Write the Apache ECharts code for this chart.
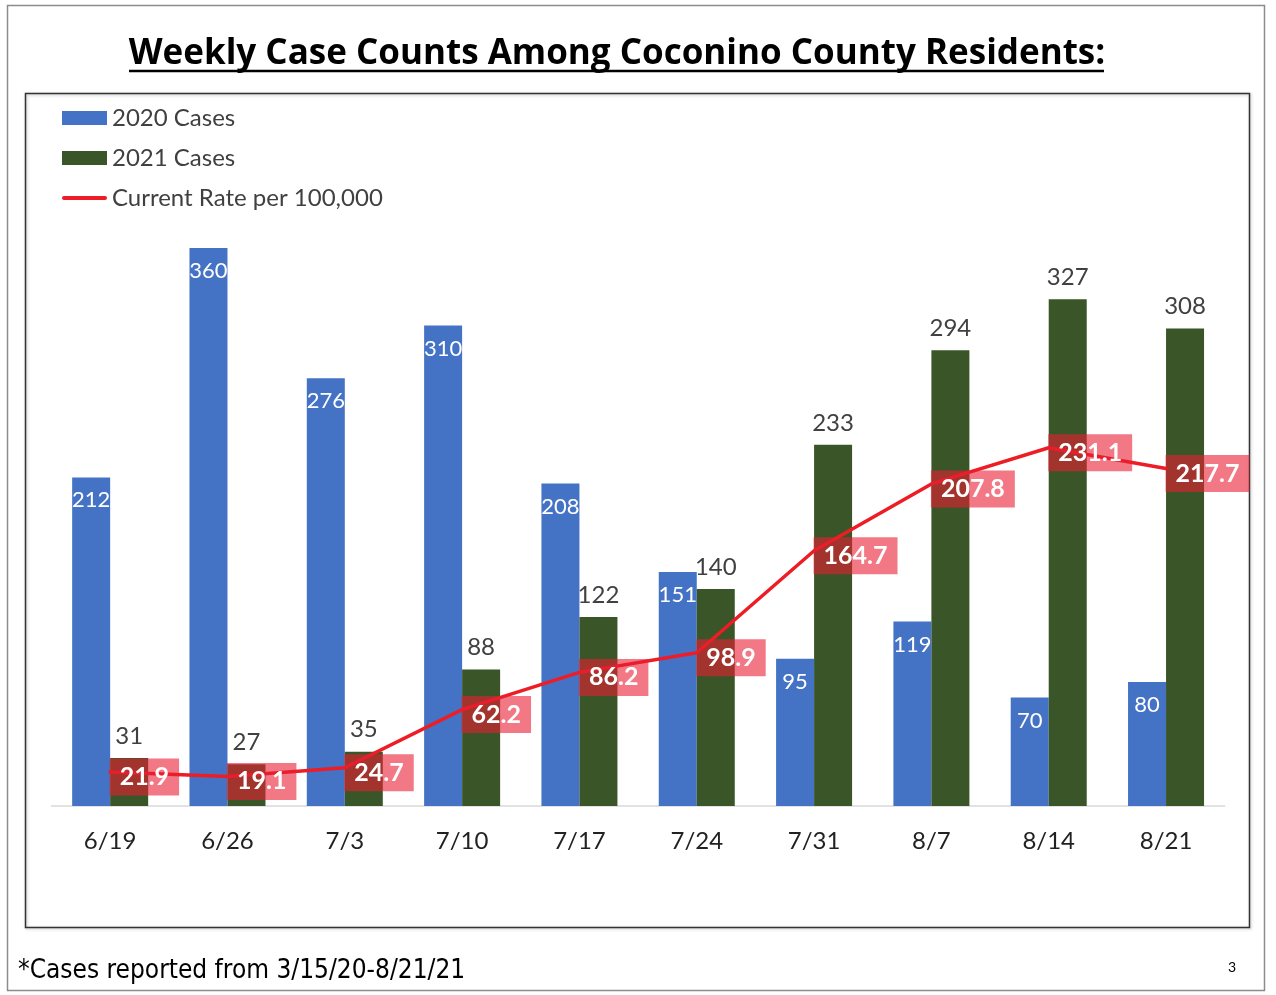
<!DOCTYPE html>
<html>
<head>
<meta charset="utf-8">
<script src="https://cdn.jsdelivr.net/npm/echarts@6/dist/echarts.min.js"></script>
<style>
html,body{margin:0;padding:0;background:#fff;}
#c{width:1276px;height:995px;}
</style>
</head>
<body>
<div id="c"></div>
<script>
const categories = ['6/19','6/26','7/3','7/10','7/17','7/24','7/31','8/7','8/14','8/21'];
const cases2020 = [212, 360, 276, 310, 208, 151, 95, 119, 70, 80];
const cases2021 = [31, 27, 35, 88, 122, 140, 233, 294, 327, 308];
const rate = [21.9, 19.1, 24.7, 62.2, 86.2, 98.9, 164.7, 207.8, 231.1, 217.7];

const chart = echarts.init(document.getElementById('c'));
const FONT = 'Lato, "Noto Sans", sans-serif';
chart.setOption({
  animation: false,
  backgroundColor: '#fff',
  textStyle: { fontFamily: FONT },
  grid: { left: 51.5, right: 51.3, top: 186, bottom: 189, outerBoundsMode: 'none' },
  legend: {
    orient: 'vertical',
    left: 57, top: 101,
    itemWidth: 45, itemHeight: 14, itemGap: 16,
    textStyle: { fontSize: 24, color: '#404040', fontFamily: FONT },
    data: [
      { name: '2020 Cases', icon: 'rect' },
      { name: '2021 Cases', icon: 'rect' },
      { name: 'Current Rate per 100,000', icon: 'path://M2,0 L43,0 A2,2 0 0 1 43,4 L2,4 A2,2 0 0 1 2,0 Z' }
    ]
  },
  xAxis: {
    type: 'category',
    data: categories,
    axisTick: { show: false },
    axisLine: { lineStyle: { color: '#D9D9D9', width: 1.5 } },
    axisLabel: { fontSize: 24, color: '#222', margin: 23, fontFamily: FONT }
  },
  yAxis: {
    type: 'value', min: 0, max: 400,
    show: false, splitLine: { show: false }
  },
  series: [
    {
      name: '2020 Cases', type: 'bar', data: cases2020,
      barWidth: 38, barGap: '0%',
      itemStyle: { color: '#4472C4' },
      label: { show: true, position: 'insideTop', distance: 12, color: '#fff', fontSize: 22, fontFamily: FONT }
    },
    {
      name: '2021 Cases', type: 'bar', data: cases2021,
      barWidth: 38,
      itemStyle: { color: '#3A5527' },
      label: { show: true, position: 'top', distance: 10, color: '#404040', fontSize: 24, fontFamily: FONT }
    },
    {
      name: 'Current Rate per 100,000', type: 'line', data: rate,
      symbol: 'circle', symbolSize: 1, showSymbol: true, z: 5,
      lineStyle: { color: '#EE1C25', width: 3.5, cap: 'round', join: 'round' },
      itemStyle: { color: '#EE1C25' },
      label: {
        show: true, position: 'right', distance: 0, offset: [-1, 5],
        color: '#fff', fontSize: 25, fontWeight: 'bold', fontFamily: FONT,
        backgroundColor: 'rgba(232,30,50,0.6)', padding: [7, 10, 5, 10]
      }
    }
  ],
  graphic: [
    { type: 'rect', shape: { x: 7.5, y: 5.5, width: 1257, height: 985 }, style: { fill: 'none', stroke: '#8C8C8C', lineWidth: 1.5 }, silent: true },
    { type: 'rect', shape: { x: 25.5, y: 93.5, width: 1224, height: 834 }, style: { fill: 'none', stroke: '#333', lineWidth: 1.5, shadowColor: 'rgba(0,0,0,0.25)', shadowBlur: 3, shadowOffsetX: 1, shadowOffsetY: 1 }, silent: true },
    { type: 'text', x: 617, y: 54, style: { text: 'Weekly Case Counts Among Coconino County Residents:', font: 'bold 35px "Open Sans", sans-serif', fill: '#000', align: 'center', verticalAlign: 'middle' } },
    { type: 'line', shape: { x1: 129, y1: 71, x2: 1104, y2: 71 }, style: { stroke: '#000', lineWidth: 2.5 } },
    { type: 'text', left: 18, top: 958, style: { text: '*Cases reported from 3/15/20-8/21/21', font: '26px "Liberation Sans Narrow", "DejaVu Sans Condensed", sans-serif', fill: '#000' } },
    { type: 'text', left: 1228, top: 960, style: { text: '3', font: '14px ' + FONT, fill: '#000' } }
  ]
});
</script>
</body>
</html>
